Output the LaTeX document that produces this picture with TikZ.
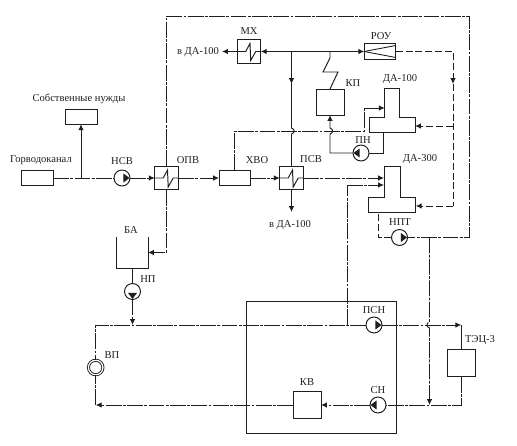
\documentclass[tikz,border=0pt]{standalone}
\usepackage{fontspec}
\setmainfont{Liberation Serif}
\usepackage{tikz}
\usetikzlibrary{arrows.meta,positioning,calc}
\definecolor{inkline}{RGB}{30,30,30}
\tikzset{
    tip/.style={-{Latex[length=3.4pt,width=3.2pt]}},
    unitbox/.style={draw=inkline, line width=0.56pt, inner sep=0pt, outer sep=0pt},
    ghost/.style={inner sep=0pt, outer sep=0pt},
    lbl/.style={font=\fontsize{6}{7}\selectfont, text=inkline, inner sep=0pt},
    steam/.style={draw=inkline, line width=0.56pt},
    water/.style={draw=inkline, line width=0.56pt, dash pattern=on 9pt off 0.8pt on 1.6pt off 0.8pt},
    cond/.style={draw=inkline, line width=0.56pt, dash pattern=on 4pt off 1.6pt},
    pumpnode/.style={circle, draw=inkline, line width=0.56pt, minimum size=0.32cm, inner sep=0pt, outer sep=0pt,
        path picture={\fill[inkline, shift={(path picture bounding box.center)}]
            ({#1+72}:4.7) -- ({#1-72}:4.7) -- (#1:7.5) -- cycle;}},
    exchanger/.style={unitbox, minimum size=0.47cm,
        path picture={\draw[inkline, line width=0.56pt, shift={(path picture bounding box.center)}]
            (-12,0) -- (-3.3,0) -- (1,-8) -- (1.7,9) -- (6.7,0) -- (12,0);}}
}
\begin{document}
\begin{tikzpicture}[x=0.02cm, y=-0.02cm]
\useasboundingbox (0,0) rectangle (517,446);

% units
\node[unitbox, minimum width=0.63cm, minimum height=0.3cm] (gorvod) at (37.5,178) {};
\node[unitbox, minimum width=0.64cm, minimum height=0.29cm] (sobst) at (81,117) {};
\node[unitbox, minimum width=0.62cm, minimum height=0.31cm] (hvo) at (234.5,178) {};
\node[unitbox, minimum width=0.56cm, minimum height=0.52cm] (kp) at (330,102) {};
\node[unitbox, minimum width=0.56cm, minimum height=0.54cm] (kv) at (307,405) {};
\node[unitbox, minimum width=0.55cm, minimum height=0.55cm] (tec) at (461.3,363) {};
\node[unitbox, minimum width=3.02cm, minimum height=2.66cm] (stn) at (321.5,367.5) {};
\node[unitbox, minimum width=0.63cm, minimum height=0.32cm] (rou) at (380,51.5) {};
\node[exchanger] (opv) at (166.5,178) {};
\node[exchanger] (psv) at (291.5,178) {};
\node[exchanger] (mx) at (249,51.5) {};
\draw[inkline, line width=0.5pt] (rou.west) -- (rou.north east |- 0,45.5);
\draw[inkline, line width=0.5pt] (rou.west) -- (rou.north east |- 0,57.5);

% pumps
\node[pumpnode=0] (nsv) at (122,178) {};
\node[pumpnode=180] (pn) at (361,153) {};
\node[pumpnode=0] (npt) at (399.5,237.5) {};
\node[pumpnode=90] (np) at (132.5,291.5) {};
\node[pumpnode=0] (psn) at (374,325) {};
\node[pumpnode=180] (sn) at (378,405) {};
\node[circle, draw=inkline, line width=0.5pt, double, double distance=0.7pt, minimum size=0.29cm, inner sep=0pt, outer sep=0pt] (vp) at (95.7,367.5) {};

% deaerators and tank
\node[ghost, minimum width=0.29cm, minimum height=0.58cm] (da100t) at (392,102.5) {};
\node[ghost, minimum width=0.92cm, minimum height=0.31cm] (da100b) at (392,124.75) {};
\node[ghost, minimum width=0.32cm, minimum height=0.62cm] (da300t) at (392,181.5) {};
\node[ghost, minimum width=0.95cm, minimum height=0.3cm] (da300b) at (392,204.5) {};
\node[ghost, minimum width=0.64cm, minimum height=0.62cm] (ba) at (132,252.5) {};
\foreach \da in {da100,da300}{
    \draw[steam] (\da b.north west) -- (\da b.north west -| \da t.south west) -- (\da t.north west)
        -- (\da t.north east) -- (\da b.north east -| \da t.south east) -- (\da b.north east)
        -- (\da b.south east) -- (\da b.south west) -- cycle;
}
\draw[steam] (ba.north west) -- (ba.south west) -- (ba.south east) -- (ba.north east);

% junctions
\coordinate (jsob) at (81,178);
\coordinate (jmain) at (291.5,51.5);
\coordinate (jkp) at (330,51.5);
\coordinate (jpsn) at (347,325);
\coordinate (jcorner) at (469.5,16);
\coordinate (jnpt) at (429.5,237.5);
\coordinate (jsn) at (429.5,405);
\coordinate (jroud) at (453,51.5);
\coordinate (jroub) at (453,126);
\coordinate (jhvo) at (364,131);
\coordinate (jhvoin) at (364,108);
\coordinate (jda) at (347,185);
\coordinate (jtec) at (461.3,325);
\coordinate (jnp) at (132.5,325);

% water, top to bottom
\draw[water] (gorvod.east) -- (nsv.west);
\draw[steam, tip] (jsob) -- (sobst.south);
\draw[water, tip] (nsv.east) -- (opv.west);
\draw[water, tip] (opv.east) -- (hvo.west);
\draw[water, tip] (hvo.east) -- (psv.west);
\draw[water, tip] (psv.east) -- (psv.east -| da300t.west);
\draw[water] (hvo.north) |- (jhvo) -- (jhvoin);
\draw[water, tip] (jhvoin) -- (jhvoin -| da100t.west);
\draw[water] (opv.north) |- (jcorner) -- (jcorner |- npt.east) -- (npt.east);
\draw[water, tip] (opv.south) |- (ba.east);
\draw[steam] (ba.south -| np.north) -- (np.north);
\draw[water, tip] (np.south) -- (jnp);
\draw[water] (psn.west) -| (vp.north);
\draw[water] (jpsn) -- (jda);
\draw[water, tip] (jda) -- (jda -| da300t.west);
\draw[water, tip] (psn.east) -- (jtec);
\draw[steam] (jtec) -- (tec.north);
\draw[water] (tec.south) |- (sn.east);
\draw[water, tip] (sn.west) -- (kv.east);
\draw[water, tip] (kv.west) -- (95.7,405);
\draw[water] (95.7,405) -- (vp.south);
\draw[water, tip] (jnpt) -- (429.5,322) .. controls +(-3.5,1) and +(-3.5,-1) .. (429.5,328) -- (jsn);
\draw[cond] (npt.west) -| (da300b.south -| 378,0);

% steam
\draw[steam, tip] (jmain) -- (mx.east);
\draw[steam, tip] (mx.west) -- (222,51.5);
\draw[steam, tip] (jmain) -- (rou.west);
\draw[steam] (jmain) -- (291.5,128) .. controls +(3.5,1) and +(3.5,-1) .. (291.5,134) -- (psv.north);
\draw[steam, tip] (jmain) -- (291.5,84);
\draw[steam, tip] (psv.south) -- (291.5,212);
\draw[steam] (jkp) -- (330,58) -- (323,72) -- (338,72) -- (kp.north);
\draw[steam, tip] (pn.west) -| (330,134) .. controls +(3.5,-1) and +(3.5,1) .. (330,128) -- (kp.south);
\draw[steam] (pn.east) -| (da100b.south -| 383,0);

% dashed return
\draw[cond, tip] (rou.east) -- (jroud) -- (453,84);
\draw[cond] (453,84) -- (453,206);
\draw[cond, tip] (jroub) -- (jroub -| da100b.east);
\draw[cond, tip] (453,206) -- (453,206 -| da300b.east);

% labels
\foreach \nm/\px/\py/\txt in {
    gorvod/41/160/Горводоканал, sobst/79/99/Собственные нужды, nsv/122/161/НСВ,
    opv/188/160/ОПВ, hvo/257/160/ХВО, psv/311/159/ПСВ, mx/249/31/МХ, rou/381/36/РОУ,
    kp/353/83/КП, da100/400/79/ДА-100, pn/363/140/ПН, da300/420/159/ДА-300, npt/400/222/НПТ,
    ba/131/230/БА, np/148/279/НП, vp/112/355/ВП, psn/374/310/ПСН, kv/307/382/КВ, sn/378/390/СН,
    tec/480/340/ТЭЦ-3, vda/198/52/в ДА-100, vdb/290/225/в ДА-100}{
    \node[lbl] (t\nm) at (\px,\py) {\txt};
}
\end{tikzpicture}
\end{document}
